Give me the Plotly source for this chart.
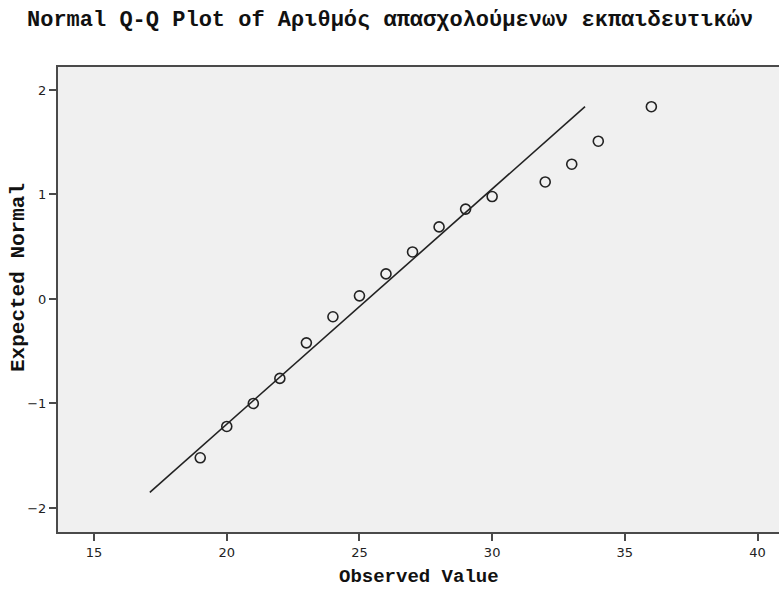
import plotly.graph_objects as go

# Observed values and their expected normal scores
observed = [19, 20, 21, 22, 23, 24, 25, 26, 27, 28, 29, 30, 32, 33, 34, 36]
expected = [-1.52, -1.22, -1.00, -0.76, -0.42, -0.17, 0.03, 0.24, 0.45, 0.69,
            0.86, 0.98, 1.12, 1.29, 1.51, 1.84]

# Reference line end points
ref_x = [17.10, 33.50]
ref_y = [-1.85, 1.84]

x_ticks = [15, 20, 25, 30, 35, 40]
y_ticks = [-2, -1, 0, 1, 2]

title_text = "Normal Q-Q Plot of Αριθμός απασχολούμενων εκπαιδευτικών"
x_title = "Observed Value"
y_title = "Expected Normal"

W, H = 779, 590
L, R, T, B = 58, 0, 67, 58

mono = "Liberation Mono"
ink = "#222222"
axis_col = "#4a4a4a"

fig = go.Figure()

fig.add_trace(go.Scatter(
    x=ref_x, y=ref_y, mode="lines",
    line=dict(color=ink, width=1.6),
    showlegend=False, hoverinfo="skip",
))

fig.add_trace(go.Scatter(
    x=observed, y=expected, mode="markers",
    marker=dict(symbol="circle-open", size=10, color=ink,
                line=dict(color=ink, width=1.6)),
    showlegend=False,
))

axis_common = dict(
    showgrid=False, zeroline=False,
    showline=True, linecolor=axis_col, linewidth=2,
    ticks="outside", ticklen=7, tickwidth=2, tickcolor=axis_col,
    tickfont=dict(family="DejaVu Sans", size=13, color=ink),
)

# x axis mirrored to draw the top frame line; the right side stays open
fig.update_xaxes(range=[13.64, 40.81], tickvals=x_ticks, mirror=True, **axis_common)
fig.update_yaxes(range=[-2.23, 2.22], tickvals=y_ticks, mirror=False, **axis_common)

fig.update_layout(
    width=W, height=H,
    margin=dict(l=L, r=R, t=T, b=B, pad=0),
    paper_bgcolor="white",
    plot_bgcolor="#f0f0f0",
    title=dict(
        text=title_text,
        font=dict(family=mono, size=22, color="#111111", weight="bold"),
        x=27 / W, xanchor="left", xref="container",
        y=1 - 18 / H, yanchor="middle", yref="container",
    ),
    annotations=[
        dict(text=x_title, xref="paper", yref="paper",
             x=0.5, y=-(577 - (H - B)) / (H - T - B),
             xanchor="center", yanchor="middle", showarrow=False,
             font=dict(family=mono, size=19, color="#111111", weight="bold")),
        dict(text=y_title, xref="paper", yref="paper",
             x=(18 - L) / (W - L - R), y=((H - B) - 278) / (H - T - B),
             xanchor="center", yanchor="middle", showarrow=False, textangle=-90,
             font=dict(family=mono, size=21, color="#111111", weight="bold")),
    ],
)

fig.write_html("out.html")
